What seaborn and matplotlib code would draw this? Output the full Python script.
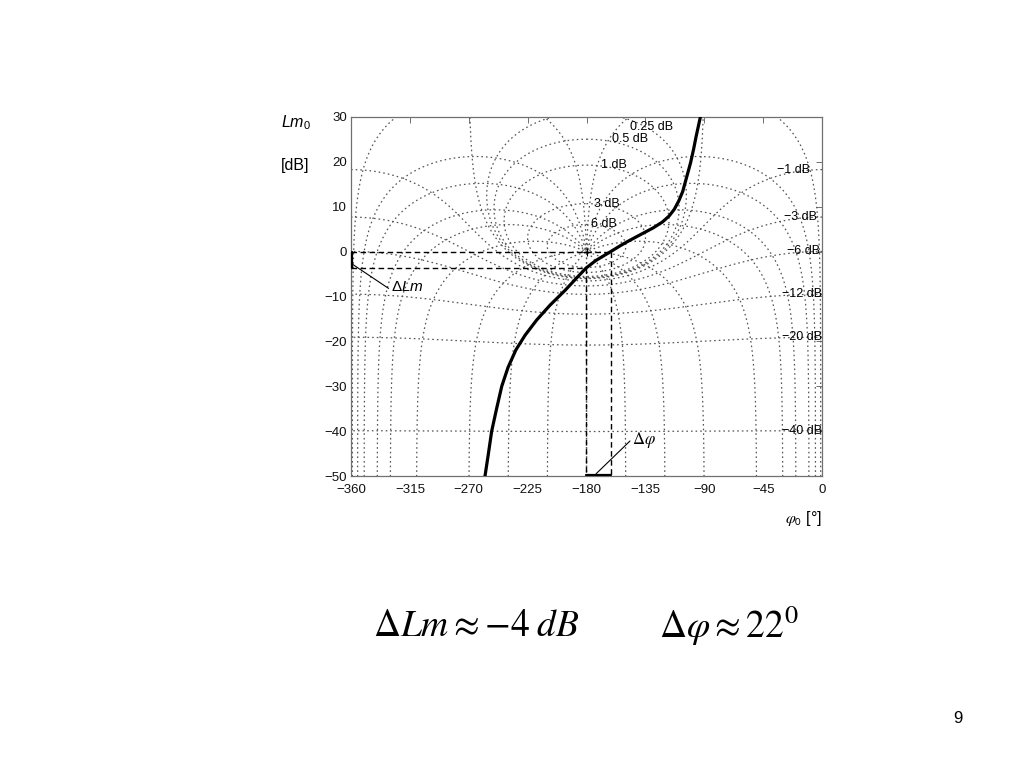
import numpy as np
import pandas as pd
import matplotlib
matplotlib.use("Agg")
import matplotlib.pyplot as plt
import seaborn as sns

# open-loop frequency response
phase_deg = [-257.6, -255.0, -252.5, -248.6, -244.8, -240.0, -234.0, -226.9,
             -218.0, -207.8, -196.3, -188.0, -180.5, -173.0, -167.0, -161.0,
             -154.0, -148.0, -139.0, -129.0, -122.0, -117.0, -113.0, -109.5,
             -106.5, -103.4, -100.5, -98.2, -96.3, -94.5, -93.0]
lm_db = [-50, -45, -40, -34.8, -30, -25.8, -21.9, -18.6,
         -15.2, -11.9, -8.6, -6.0, -3.7, -2.0, -0.95, 0.1,
         1.35, 2.35, 3.75, 5.3, 6.6, 7.9, 9.4, 11.3,
         13.4, 16.7, 19.8, 22.8, 25.6, 28, 30]

# closed-loop magnitude (M) and phase (N) contours of the grid
gain_levels = [6, 3, 1, 0.5, 0.25, 0, -1, -3, -6, -12, -20, -40]
phase_levels = [-1, -5, -10, -20, -30, -50, -90, -120, -150, -180]

# stability margins marked on the chart
gm_phase, gm_lm = -180.5, -3.7
pm_phase, pm_lm = -161.0, 0

x_ticks = list(range(-360, 1, 45))
y_ticks = list(range(-50, 31, 10))

sns.set_style("white")
plt.rcParams["font.family"] = ["Liberation Sans", "DejaVu Sans"]
plt.rcParams["text.color"] = "black"
plt.rcParams["mathtext.fontset"] = "custom"
plt.rcParams["mathtext.rm"] = "Liberation Sans"
plt.rcParams["mathtext.it"] = "Liberation Sans:italic"
plt.rcParams["mathtext.sf"] = "Liberation Sans"

fig = plt.figure(figsize=(10.24, 7.68), dpi=100)
ax = fig.add_axes([0.3428, 0.3802, 0.4600, 0.4675])

grid_kw = dict(color="#555555", ls=(0, (1.3, 2.4)), lw=0.9, zorder=1)


def to_nichols(G):
    ph = np.degrees(np.unwrap(np.angle(G)))
    return ph, 20 * np.log10(np.abs(G))


# M contours
for g in gain_levels:
    M = 10 ** (g / 20)
    if g == 0:
        psi = np.linspace(-1e-4, -2 * np.pi + 1e-4, 4000)
    else:
        psi = np.linspace(0, -2 * np.pi, 4000)
    T = M * np.exp(1j * psi)
    ph, mag = to_nichols(T / (1 - T))
    if g > 0:
        ph -= 360 * np.round((ph.mean() + 180) / 360)
    ax.plot(ph, mag, **grid_kw)

# N contours and their mirror images about -180
m = np.logspace(-4, 4, 6000)
for n in phase_levels:
    T = m * np.exp(1j * np.radians(n))
    G = T / (1 - T)
    ph = np.mod(np.degrees(np.angle(G)), -360)
    mag = 20 * np.log10(np.abs(G))
    ax.plot(ph, mag, **grid_kw)
    ax.plot(-360 - ph, mag, **grid_kw)

# contour labels
pos_label_x = {6: -176.6, 3: -174.3, 1: -168.9, 0.5: -160.5, 0.25: -146.8}
for g, xl in pos_label_x.items():
    M = 10 ** (g / 20)
    yl = min(20 * np.log10(M / (M - 1)), 27.7)
    ax.text(xl, yl, f"{g:g} dB", fontsize=9, ha="left", va="center", zorder=3)
neg_label_x = {-1: -9.2, -3: -3.9, -6: -1.5, -12: -0.1, -20: -0.1, -40: -0.1}
for g, xl in neg_label_x.items():
    M = 10 ** (g / 20)
    yl = 20 * np.log10(M / (1 - M))
    ax.text(xl, yl, f"\u2212{abs(g)} dB", fontsize=9, ha="right", va="center", zorder=3)

# open-loop curve
curve = pd.DataFrame({"phase": phase_deg, "lm": lm_db})
sns.lineplot(data=curve, x="phase", y="lm", sort=False, color="black", lw=2.3,
             ax=ax, zorder=5)

# margin construction lines
dash_kw = dict(color="black", ls=(0, (4, 2.5)), lw=1.0, zorder=4)
ax.plot([-360, pm_phase], [pm_lm, pm_lm], **dash_kw)
ax.plot([-360, gm_phase], [gm_lm, gm_lm], **dash_kw)
ax.plot([gm_phase, gm_phase], [gm_lm, -50], **dash_kw)
ax.plot([pm_phase, pm_phase], [pm_lm, -50], **dash_kw)
ax.plot([-180], [0], marker="+", color="black", ms=6, mew=0.8, zorder=4)

ax.plot([-359.6, -359.6], [0, gm_lm], color="black", lw=1.6, zorder=6, clip_on=False)
ax.plot([-360, -331.3], [-2.6, -8.2], color="black", lw=0.8, zorder=6)
ax.text(-329.5, -7.9, r"$\Delta \mathit{Lm}$", fontsize=11, ha="left", va="center")

ax.plot([gm_phase, pm_phase], [-49.8, -49.8], color="black", lw=1.6, zorder=6)
ax.plot([-172.7, -146.8], [-49.5, -42.2], color="black", lw=0.8, zorder=6)
ax.text(-145.5, -42.0, r"$\Delta\varphi$", fontsize=12, ha="left", va="center",
        math_fontfamily="stix")

ax.set_xlim(-360, 0)
ax.set_ylim(-50, 30)
ax.set_xticks(x_ticks)
ax.set_yticks(y_ticks)
ax.tick_params(axis="both", direction="in", length=4, width=0.7, colors="#707070",
               labelcolor="#111111", labelsize=9.5, top=True, right=True)
ax.tick_params(axis="x", pad=6)
ax.tick_params(axis="y", pad=3)
ax.set_xlabel("")
ax.set_ylabel("")
for sp in ax.spines.values():
    sp.set_color("#707070")
    sp.set_linewidth(0.9)

# axis titles placed like the slide
fig.text(0.274, 0.840, r"$\mathit{Lm}_{\mathsf{0}}$", fontsize=11.5, ha="left", va="center")
fig.text(0.274, 0.785, "[dB]", fontsize=11.5, ha="left", va="center")
fig.text(0.803, 0.3255, r"$\varphi_{\mathsf{0}}$ [°]", fontsize=11.5, ha="right",
         va="center", math_fontfamily="stix")

# result line
fig.text(0.364, 0.185, r"$\Delta Lm \approx {-}4\;dB$", fontsize=27, ha="left",
         va="center", math_fontfamily="stix")
fig.text(0.644, 0.185, r"$\Delta\varphi \approx 22^0$", fontsize=27, ha="left",
         va="center", math_fontfamily="stix")

fig.text(0.935, 0.065, "9", fontsize=12, ha="center", va="center")

fig.savefig("out.png", dpi=100)
